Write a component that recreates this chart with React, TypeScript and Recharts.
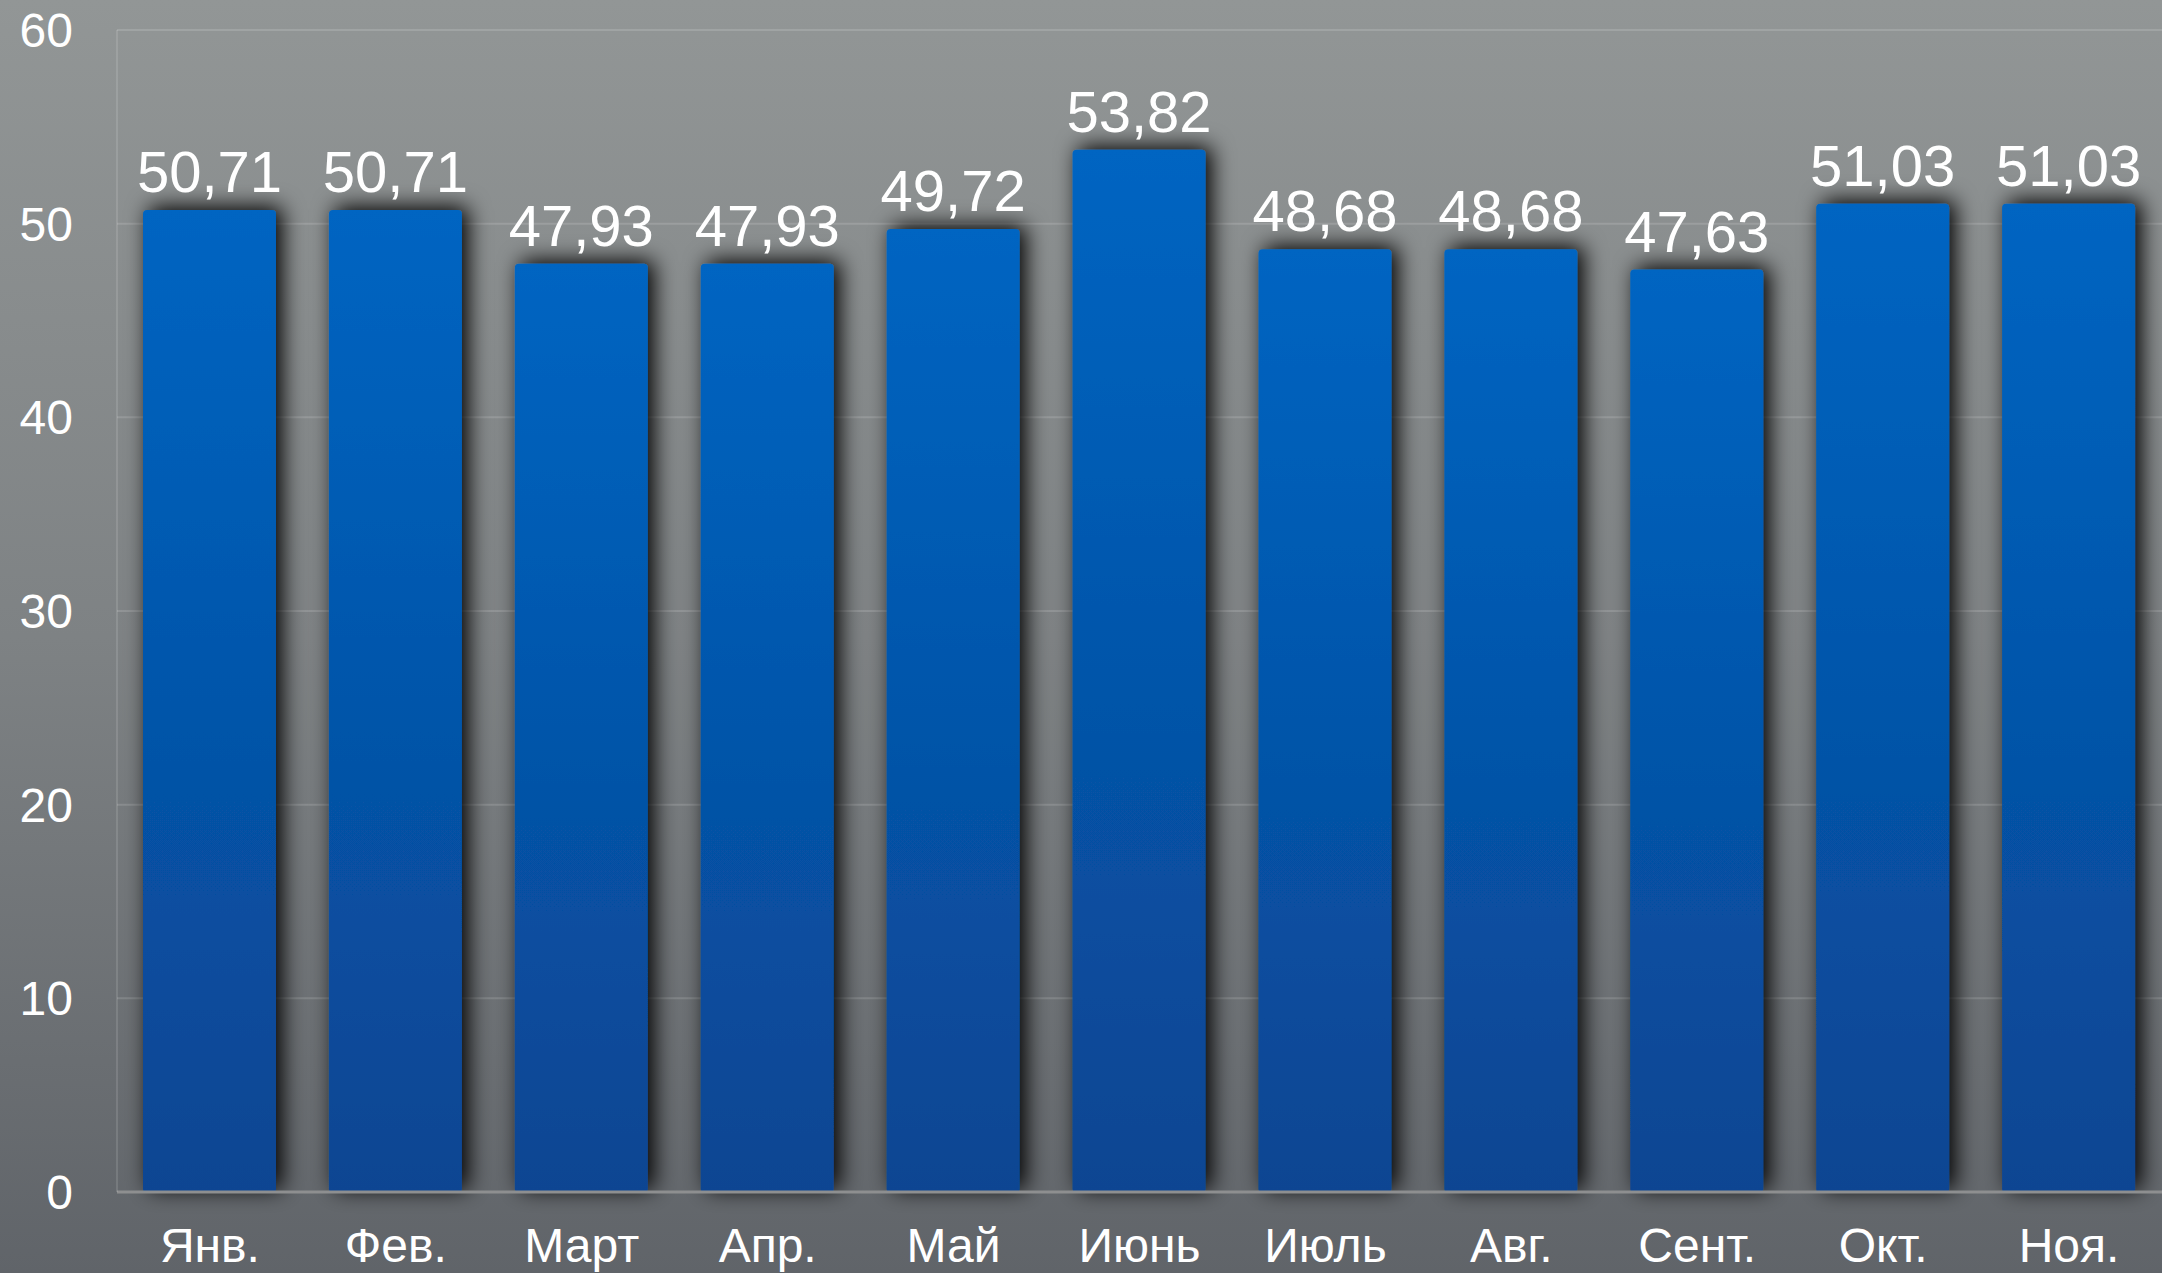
import { BarChart, Bar, XAxis, YAxis, CartesianGrid, LabelList, Rectangle } from 'recharts';

const months = ['Янв.', 'Фев.', 'Март', 'Апр.', 'Май', 'Июнь', 'Июль', 'Авг.', 'Сент.', 'Окт.', 'Ноя.'];
const prices = [50.71, 50.71, 47.93, 47.93, 49.72, 53.82, 48.68, 48.68, 47.63, 51.03, 51.03];
const yTicks = [0, 10, 20, 30, 40, 50, 60];

const data = months.map((m, i) => ({ month: m, value: prices[i] }));

const font = '"Liberation Sans", Arial, Helvetica, sans-serif';

function BarShape(props: any) {
  return (
    <Rectangle
      {...props}
      radius={[4, 4, 3, 3]}
      fill="url(#barFill)"
      filter="url(#barShadow)"
    />
  );
}

function App() {
  return (
    <div
      style={{
        position: 'absolute',
        left: 0,
        top: 0,
        width: 2162,
        height: 1273,
        background: 'linear-gradient(to bottom, #929696 0%, #7e8284 50%, #606469 100%)',
        fontFamily: font,
      }}
    >
      <BarChart
        width={2162}
        height={1273}
        data={data}
        margin={{ top: 30, right: 0, left: 0, bottom: 0 }}
      >
        <defs>
          <linearGradient id="barFill" x1="0" y1="0" x2="0" y2="1">
            <stop offset="0%" stopColor="#0065c2" />
            <stop offset="100%" stopColor="#0a4592" />
          </linearGradient>
          <filter id="barShadow" x="-40%" y="-15%" width="190%" height="130%">
            <feDropShadow dx="6" dy="-3" stdDeviation="11" floodColor="#000" floodOpacity="1" />
          </filter>
        </defs>
        <CartesianGrid vertical={false} stroke="rgba(255,255,255,0.14)" strokeWidth={2} />
        <XAxis
          dataKey="month"
          height={81}
          tickLine={false}
          tickSize={0}
          tickMargin={36}
          axisLine={{ stroke: '#8e8f90', strokeWidth: 3 }}
          tick={{ fill: '#ffffff', fontSize: 48, fontFamily: font }}
          interval={0}
        />
        <YAxis
          width={117}
          domain={[0, 60]}
          ticks={yTicks}
          tickLine={false}
          tickSize={0}
          tickMargin={44}
          axisLine={{ stroke: 'rgba(255,255,255,0.12)', strokeWidth: 2 }}
          tick={{ fill: '#ffffff', fontSize: 48, fontFamily: font }}
        />
        <Bar dataKey="value" barSize={133} shape={BarShape} isAnimationActive={false}>
          <LabelList
            dataKey="value"
            position="top"
            offset={18}
            fill="#ffffff"
            fontSize={58}
            fontFamily={font}
            formatter={(v: any) => Number(v).toFixed(2).replace('.', ',')}
          />
        </Bar>
      </BarChart>
    </div>
  );
}

export default App;
